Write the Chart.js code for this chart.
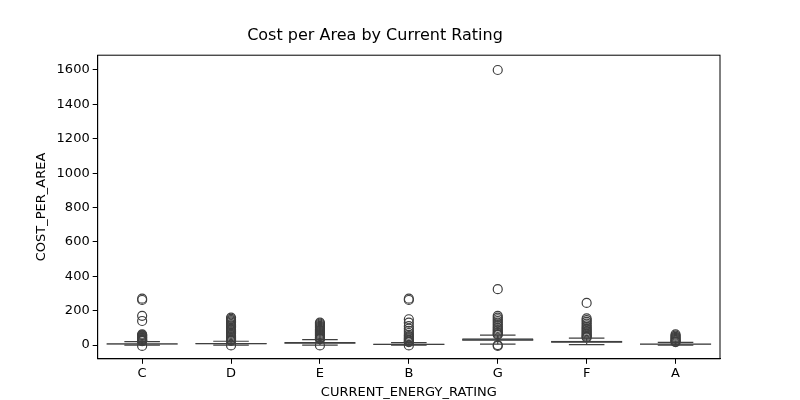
<!DOCTYPE html>
<html><head><script src="https://cdn.jsdelivr.net/npm/chart.js@4"></script>
<style>body{margin:0;background:#fff}#w{width:800px;height:400px}</style></head>
<body><div id="w"><canvas id="c"></canvas></div>
<script>
const categories=['C','D','E','B','G','F','A'];
const q1=[3,5,8,2,25,13,3];
const median=[6,8,12,4,30,18,5];
const q3=[10,12,18,7,40,25,8];
const whiskLo=[0,0,0,0,5,2,0];
const whiskHi=[20,22,32,14,58,40,15];
const outliers={
 C:[270,262,170,140,62,58,54,50,46,42,38,34,30,27,24,22,-5],
 D:[160,152,145,138,130,122,115,108,100,93,86,79,72,65,58,51,44,38,32,27,24,-2],
 E:[130,124,118,112,106,100,94,88,82,76,70,64,58,52,46,41,37,34,-2],
 B:[270,262,150,130,110,95,82,70,60,52,45,38,32,26,20,17,-2],
 G:[1600,325,170,160,150,140,130,120,110,100,92,84,76,70,64,60,0,-5],
 F:[245,155,145,135,125,115,105,97,89,81,74,67,60,54,48,44],
 A:[62,55,48,42,36,30,25,20,17]
};
const yTicks=[0,200,400,600,800,1000,1200,1400,1600];
const edge='#3f3f3f';
const pts=[];categories.forEach(c=>outliers[c].forEach(v=>pts.push({x:c,y:v})));
const boxPlug={id:'box',
 afterDatasetsDraw(ch){const {ctx,scales:{x,y},chartArea:a}=ch;const meta=ch.getDatasetMeta(0);
  ctx.save();ctx.strokeStyle=edge;ctx.lineWidth=1.2;
  meta.data.forEach((b,i)=>{const cx=b.x,hw=b.width/2,cw=hw/2;
   const l=(x1,y1,x2,y2)=>{ctx.beginPath();ctx.moveTo(x1,y1);ctx.lineTo(x2,y2);ctx.stroke();};
   l(cx,y.getPixelForValue(q1[i]),cx,y.getPixelForValue(whiskLo[i]));
   l(cx,y.getPixelForValue(q3[i]),cx,y.getPixelForValue(whiskHi[i]));
   l(cx-cw,y.getPixelForValue(whiskLo[i]),cx+cw,y.getPixelForValue(whiskLo[i]));
   l(cx-cw,y.getPixelForValue(whiskHi[i]),cx+cw,y.getPixelForValue(whiskHi[i]));
   l(cx-hw,y.getPixelForValue(median[i]),cx+hw,y.getPixelForValue(median[i]));
  });
  ctx.strokeStyle='#000';ctx.lineWidth=1;ctx.strokeRect(a.left,a.top,a.right-a.left,a.bottom-a.top);ctx.restore();}};
Chart.defaults.font.family='DejaVu Sans';Chart.defaults.color='#000';
new Chart(document.getElementById('c'),{type:'bar',
 data:{labels:categories,datasets:[
  {data:categories.map((c,i)=>[q1[i],q3[i]]),backgroundColor:'#3274a1',borderColor:edge,borderWidth:1.2,borderSkipped:false,barPercentage:0.8,categoryPercentage:1,order:2},
  {type:'scatter',data:pts,pointRadius:4.5,pointBackgroundColor:'rgba(0,0,0,0)',pointBorderColor:edge,pointBorderWidth:1.2,order:1}
 ]},
 options:{responsive:true,maintainAspectRatio:false,animation:false,
  layout:{padding:{left:30,right:80,top:16,bottom:0}},
  plugins:{legend:{display:false},tooltip:{enabled:false},
   title:{display:true,text:'Cost per Area by Current Rating',font:{size:16,weight:'normal'},padding:{top:10,bottom:10}}},
  scales:{
   x:{type:'category',offset:true,grid:{display:true,offset:false,drawOnChartArea:false,tickLength:5,color:'#000'},border:{color:'#000'},
      ticks:{font:{size:13},padding:2},title:{display:true,text:'CURRENT_ENERGY_RATING',font:{size:13},padding:{top:1,bottom:0}}},
   y:{min:-80,max:1686,afterBuildTicks:s=>{s.ticks=yTicks.map(v=>({value:v}));},
      grid:{display:true,drawOnChartArea:false,tickLength:5,color:'#000'},border:{color:'#000'},
      ticks:{font:{size:13},padding:3,callback:v=>String(v)},title:{display:true,text:'COST_PER_AREA',font:{size:13}}}
  }},plugins:[boxPlug]});
</script></body></html>
